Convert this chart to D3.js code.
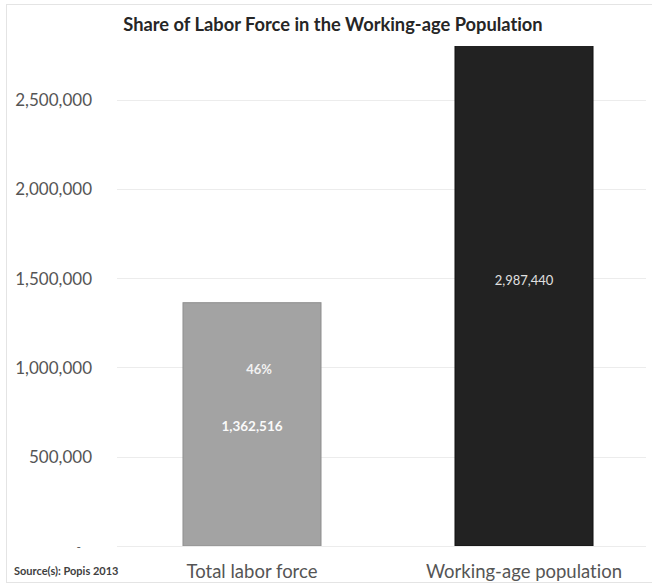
<!DOCTYPE html>
<html>
<head>
<meta charset="utf-8">
<script src="https://cdn.jsdelivr.net/npm/d3@7"></script>
<style>
  html, body { margin: 0; padding: 0; background: #fff; }
  svg { display: block; }
  text { font-family: Lato, "Open Sans", sans-serif; font-variant-ligatures: none; font-feature-settings: "liga" 0, "dlig" 0; }
</style>
</head>
<body>
<svg id="chart" width="652" height="586"></svg>
<script>
// Labor force vs. working-age population (Popis 2013)
const categories = ["Total labor force", "Working-age population"];
const values = [1362516, 2987440];
const shareLabels = ["46%", null];
const tickValues = [0, 500000, 1000000, 1500000, 2000000, 2500000];
const barColors = ["#a3a3a3", "#222222"];

const W = 652, H = 586;
const margin = { top: 46, right: 6, bottom: 40, left: 117 };
const yMax = 2800000;

const svg = d3.select("#chart");

// frame
svg.append("rect")
  .attr("x", 6.5).attr("y", 4.5)
  .attr("width", W + 10).attr("height", 578)
  .attr("fill", "#fff").attr("stroke", "#e4e4e4");

const x = d3.scaleBand()
  .domain(categories)
  .range([margin.left, 659])
  .paddingInner(0.4926)
  .paddingOuter(0.2426);

const y = d3.scaleLinear()
  .domain([0, yMax])
  .range([546, margin.top]);

// gridlines
svg.append("g")
  .selectAll("line")
  .data(tickValues)
  .join("line")
  .attr("x1", margin.left).attr("x2", W - margin.right)
  .attr("y1", d => Math.round(y(d)) + 0.5)
  .attr("y2", d => Math.round(y(d)) + 0.5)
  .attr("stroke", "#ececec");

// y axis labels (accounting style: zero shows as a dash)
const fmt = d3.format(",");
const yAxis = d3.axisLeft(y)
  .tickValues(tickValues)
  .tickSize(0)
  .tickPadding(0)
  .tickFormat(d => d === 0 ? "-" : fmt(d));

const gy = svg.append("g")
  .attr("transform", `translate(92,0)`)
  .call(yAxis);
gy.select(".domain").remove();
gy.selectAll("text")
  .attr("font-family", "Lato, 'Open Sans', sans-serif")
  .attr("font-size", 17)
  .attr("fill", "#555555")
  .attr("dy", "0.35em");
gy.selectAll(".tick").filter(d => d === 0).select("text")
  .attr("dx", -11).attr("font-size", 12);

// bars, clipped to the plot area
svg.append("clipPath").attr("id", "plot-clip")
  .append("rect")
  .attr("x", margin.left).attr("y", y(yMax))
  .attr("width", W - margin.left).attr("height", y(0) - y(yMax));

svg.append("g")
  .attr("clip-path", "url(#plot-clip)")
  .selectAll("rect")
  .data(values)
  .join("rect")
  .attr("x", (d, i) => x(categories[i]))
  .attr("width", x.bandwidth())
  .attr("y", d => y(d))
  .attr("height", d => y(0) - y(d))
  .attr("fill", (d, i) => barColors[i])
  .attr("stroke", (d, i) => i === 0 ? "#8f8f8f" : "#111")
  .attr("stroke-width", 1);

// value labels
svg.append("g")
  .selectAll("text")
  .data(values)
  .join("text")
  .attr("x", (d, i) => x(categories[i]) + x.bandwidth() / 2)
  .attr("y", (d, i) => i === 0 ? 426 : 280)
  .attr("dy", "0.35em")
  .attr("text-anchor", "middle")
  .attr("font-size", (d, i) => i === 0 ? 13.5 : 13)
  .attr("font-weight", (d, i) => i === 0 ? "bold" : "normal")
  .attr("fill", (d, i) => i === 0 ? "#fafafa" : "#e0e0e0")
  .text(d => fmt(d));

// share label
svg.append("g")
  .selectAll("text")
  .data(shareLabels.filter(d => d))
  .join("text")
  .attr("x", x(categories[0]) + x.bandwidth() / 2 + 7)
  .attr("y", 369)
  .attr("dy", "0.35em")
  .attr("text-anchor", "middle")
  .attr("font-size", 13)
  .attr("font-weight", "bold")
  .attr("fill", "#f2f2f2")
  .text(d => d);

// category labels
svg.append("g")
  .selectAll("text")
  .data(categories)
  .join("text")
  .attr("x", d => x(d) + x.bandwidth() / 2)
  .attr("y", 572)
  .attr("dy", "0.35em")
  .attr("text-anchor", "middle")
  .attr("font-size", 18.5)
  .attr("fill", "#555555")
  .text(d => d);

// title
svg.append("text")
  .attr("x", 333)
  .attr("y", 25)
  .attr("dy", "0.35em")
  .attr("text-anchor", "middle")
  .attr("font-size", 18.3)
  .attr("font-weight", "bold")
  .attr("fill", "#262626")
  .text("Share of Labor Force in the Working-age Population");

// source note
svg.append("text")
  .attr("x", 14)
  .attr("y", 571)
  .attr("dy", "0.35em")
  .attr("font-size", 11)
  .attr("font-weight", "bold")
  .attr("fill", "#404040")
  .text("Source(s): Popis 2013");
</script>
</body>
</html>
